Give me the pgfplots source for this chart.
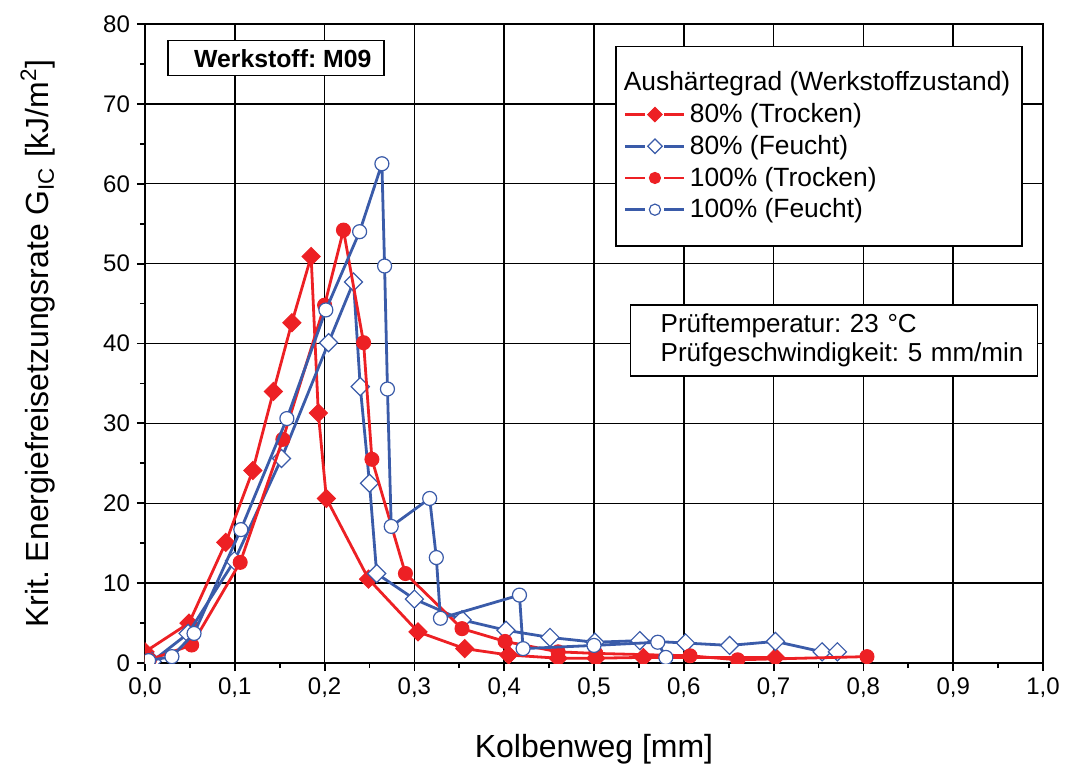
\documentclass[border=0pt]{standalone}
\usepackage{fontspec}
\setmainfont{Liberation Sans}
\usepackage{pgfplots}
\pgfplotsset{compat=1.18}
\usetikzlibrary{calc}
\definecolor{cred}{RGB}{237,32,36}
\definecolor{cblue}{RGB}{58,91,169}
\frenchspacing

\begin{document}
\begin{tikzpicture}
\begin{axis}[
  name=ax,
  scale only axis, width=449pt, height=319.5pt,
  xmin=0, xmax=1, ymin=0, ymax=80,
  xtick={0,0.1,0.2,0.3,0.4,0.5,0.6,0.7,0.8,0.9,1},
  ytick={0,10,...,80},
  minor x tick num=1, minor y tick num=1,
  tick align=outside, tick pos=left,
  major tick length=4pt, minor tick length=2.5pt,
  tick style={black, line width=0.9pt},
  axis line style={line width=1pt},
  clip marker paths=true,
  /pgf/number format/assume math mode=true,
  x tick label style={/pgf/number format/.cd, fixed, fixed zerofill, precision=1, use comma, /tikz/.cd},
  tick label style={font=\fontsize{12}{14}\selectfont},
  xlabel={Kolbenweg [mm]},
  ylabel={Krit. Energiefreisetzungsrate G\textsubscript{IC} [kJ/m\textsuperscript{2}]},
  label style={font=\fontsize{16}{19}\selectfont},
  xlabel style={at={(axis description cs:0.5,-0.1350)}, anchor=center},
  ylabel style={at={(axis description cs:-0.1192,0.5)}, anchor=center},
  legend style={at={(rel axis cs:0.9777,0.9656)}, anchor=north east, draw=black,
    line width=0.75pt, font=\fontsize{13.2}{16}\selectfont, row sep=0.8pt,
    inner xsep=4pt, inner ysep=10.5pt},
  legend cell align=left,
  legend image code/.code={
    \draw[#1] (0pt,0pt) -- (10pt,0pt);
    \draw[#1] (19.5pt,0pt) -- (29.5pt,0pt);
    \draw[#1, only marks] plot coordinates {(14.75pt,0pt)};},
  legend image post style={every mark/.append style={scale=0.8}},
]
% grid
\pgfplotsinvokeforeach{0.1,0.2,0.3,0.4,0.5,0.6,0.7,0.8,0.9}{
  \addplot[forget plot, black, line width=0.75pt] coordinates {(#1,0) (#1,80)};}
\pgfplotsinvokeforeach{10,20,30,40,50,60,70}{
  \addplot[forget plot, black, line width=0.75pt] coordinates {(0,#1) (1,#1)};}

\addlegendimage{empty legend}
\addlegendentry{\hspace{-33pt}Aushärtegrad (Werkstoffzustand)}

% 80% (Trocken)
\addplot[color=cred, line width=1.4pt, mark=square*, mark size=3.2pt,
  mark options={rotate=45, fill=cred, line width=0.5pt}]
  coordinates {(0.000,1.4) (0.049,5.0) (0.090,15.1) (0.120,24.1) (0.143,34.0) (0.1635,42.6)
  (0.185,50.9) (0.193,31.3) (0.202,20.6) (0.249,10.5) (0.304,3.9) (0.356,1.8) (0.405,1.0)
  (0.460,0.6) (0.502,0.6) (0.555,0.7) (0.702,0.7)};
\addlegendentry{80\% (Trocken)}

% 80% (Feucht)
\addplot[color=cblue, line width=1.4pt, mark=square*, mark size=3.2pt,
  mark options={rotate=45, fill=white, draw=cblue, line width=0.6pt}]
  coordinates {(0.008,0.2) (0.048,3.7) (0.0996,12.8) (0.152,25.6) (0.2044,40.1) (0.2322,47.7)
  (0.2397,34.6) (0.250,22.5) (0.258,11.2) (0.300,8.0) (0.353,5.4) (0.402,4.1) (0.451,3.2)
  (0.501,2.6) (0.551,2.8) (0.602,2.5) (0.651,2.2) (0.702,2.7) (0.754,1.4) (0.771,1.4)};
\addlegendentry{80\% (Feucht)}

% 100% (Trocken)
\addplot[color=cred, line width=1.4pt, mark=*, mark size=3.5pt,
  mark options={fill=cred, line width=0.5pt}]
  coordinates {(0.005,0.4) (0.052,2.25) (0.106,12.6) (0.1535,28.0) (0.200,44.8) (0.221,54.2)
  (0.2434,40.1) (0.2527,25.5) (0.290,11.2) (0.353,4.3) (0.401,2.7) (0.460,1.4) (0.502,1.2)
  (0.607,0.9) (0.660,0.4) (0.804,0.8)};
\addlegendentry{100\% (Trocken)}

% 100% (Feucht)
\addplot[color=cblue, line width=1.4pt, mark=*, mark size=3.5pt,
  mark options={fill=white, draw=cblue, line width=0.6pt}]
  coordinates {(0.004,0.3) (0.030,0.8) (0.0546,3.7) (0.1067,16.7) (0.158,30.6) (0.2014,44.2)
  (0.239,54.0) (0.2638,62.5) (0.2668,49.7) (0.270,34.3) (0.2742,17.1) (0.317,20.6) (0.3244,13.2)
  (0.329,5.6) (0.417,8.5) (0.421,1.8) (0.500,2.2) (0.571,2.6) (0.580,0.7)};
\addlegendentry{100\% (Feucht)}

\node[draw, line width=0.75pt, fill=white, anchor=north west, minimum width=108pt,
  minimum height=17.5pt, inner sep=0pt, font=\bfseries\fontsize{12.4}{14}\selectfont]
  at (rel axis cs:0.0245,0.975) {\hspace*{7pt}Werkstoff: M09};
\node[draw, line width=0.75pt, fill=white, anchor=north west, minimum height=35.5pt,
  text width=203.5pt, inner xsep=0pt, inner ysep=0pt, align=left,
  font=\fontsize{13}{14.5}\selectfont]
  at (rel axis cs:0.540,0.5618) {\hspace*{15pt}Prüftemperatur: 23 °C\\\hspace*{15pt}Prüfgeschwindigkeit: 5 mm/min};
\end{axis}
\pgfresetboundingbox
\path ($(ax.south west)+(-72.5pt,-50.5pt)$) rectangle ($(ax.north east)+(12.5pt,12pt)$);
\end{tikzpicture}
\end{document}
